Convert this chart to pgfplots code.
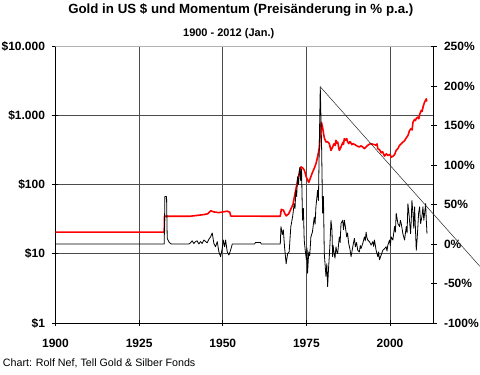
\documentclass[border=0pt]{standalone}
\usepackage{fontspec}
\setmainfont{Liberation Sans}
\usepackage{pgfplots}
\pgfplotsset{compat=1.18}
\begin{document}
\begin{tikzpicture}
\useasboundingbox (0,0) rectangle (480pt,375pt);
\begin{axis}[
  at={(55.5pt,52pt)}, anchor=south west,
  width=378pt, height=276.5pt, scale only axis,
  xmin=1900, xmax=2013,
  ymode=log, ymin=1, ymax=10000,
  axis x line*=bottom, axis y line*=left,
  axis line style={-, black, line width=0.8pt},
  xtick={1900,1925,1950,1975,2000},
  xticklabels={1900,1925,1950,1975,2000},
  ytick={1,10,100,1000,10000},
  yticklabels={\$1,\$10,\$100,\$1.000,\$10.000},
  yminorticks=false, xminorticks=false,
  tick align=center, major tick length=6pt,
  tick style={black, line width=0.8pt},
  xmajorgrids, ymajorgrids,
  grid style={black!70, line width=0.8pt},
  ticklabel style={font=\bfseries\fontsize{12}{12}\selectfont},
  xticklabel style={yshift=-10pt},
  yticklabel style={xshift=-4pt},
]
\draw[black!30, line width=0.8pt] (rel axis cs:0,1) -- (rel axis cs:1,1);
\addplot[red, line width=1.6pt, line join=round] table {
1900 20.67
1932.5 20.67
1932.6 35
1940 35
1941.3 35.5
1944.3 37
1945.5 38
1946.4 42
1947.3 40.5
1948.8 39.5
1950.1 40.5
1951.4 41.5
1952.1 40
1952.4 35.2
1967.2 35
1967.5 44
1968.1 43
1968.6 38
1969.0 35.5
1969.7 38
1970.4 45
1971.0 52
1971.4 66
1971.9 88
1972.4 116
1972.9 150
1973.4 181
1973.9 175
1974.4 162
1975.0 128
1975.7 108
1976.2 125
1976.8 150
1977.4 175
1977.9 204
1978.4 260
1978.9 350
1979.15 560
1979.5 800
1979.8 700
1980.1 560
1980.4 470
1980.85 415
1981.3 420
1981.84 394
1982.35 315
1982.86 352
1983.1 380
1983.34 394
1983.6 370
1983.85 439
1984.1 400
1984.36 415
1984.6 360
1984.84 315
1985.1 330
1985.35 352
1985.9 410
1986.1 385
1986.34 465
1986.7 440
1987.06 465
1987.3 420
1987.66 394
1988.0 420
1988.3 405
1988.6 380
1988.86 394
1989.3 385
1989.85 372
1990.3 360
1990.84 352
1991.3 365
1991.86 352
1992.34 333
1992.8 350
1993.36 372
1993.8 385
1994.35 394
1994.8 385
1995.34 381
1995.85 372
1996.1 390
1996.36 333
1996.9 320
1997.35 290
1997.8 300
1998.34 260
1998.9 280
1999.4 265
2000.0 275
2000.35 250
2000.9 258
2001.4 275
2001.85 315
2002.3 330
2002.84 370
2003.3 390
2003.86 415
2004.3 430
2004.85 475
2005.4 520
2005.84 610
2006.35 650
2006.6 620
2006.86 800
2007.34 880
2007.6 850
2007.9 920
2008.36 950
2008.6 900
2008.9 1050
2009.35 1190
2009.6 1150
2009.9 1350
2010.34 1570
2010.6 1650
2010.85 1750
2011.0 1600
};
\end{axis}
\begin{axis}[
  at={(55.5pt,52pt)}, anchor=south west,
  width=378pt, height=276.5pt, scale only axis,
  xmin=1900, xmax=2013,
  ymin=-100, ymax=250,
  axis x line=none, axis y line*=right,
  axis line style={-, black, line width=0.8pt},
  ytick={-100,-50,0,50,100,150,200,250},
  yticklabels={-100\%,-50\%,0\%,50\%,100\%,150\%,200\%,250\%},
  tick align=center, major tick length=6pt,
  tick style={black, line width=0.8pt},
  ticklabel style={font=\bfseries\fontsize{12}{12}\selectfont},
  yticklabel style={xshift=4pt},
  clip=false,
]
\addplot[black, line width=0.8pt, line join=round] table {
1900 0
1932.5 0
1932.7 60
1933.2 60
1933.4 7
1934.0 2
1934.6 0
1939.9 0
1940.35 1.5
1940.85 4
1941.35 0.7
1941.85 3
1942.35 4
1942.85 0
1943.35 3
1943.85 0.7
1944.35 5
1945.35 1.5
1945.85 6
1946.35 9
1946.85 14
1947.35 0.7
1947.85 -3.5
1948.35 3
1948.85 -10
1949.35 -16
1949.85 -5.6
1950.15 5
1950.55 -3.5
1950.85 5
1951.35 -10
1951.85 -14
1952.35 -7.7
1952.85 0
1959.5 0
1959.8 2
1961.3 2
1961.5 0
1967.2 0
1967.4 22
1967.8 12
1968.1 18
1968.5 -5
1968.95 -25
1969.4 -12
1969.85 -10
1970.35 22
1970.9 35
1971.35 51
1971.6 45
1971.85 68
1972.1 60
1972.35 85
1972.65 75
1972.9 93
1973.05 97
1973.3 80
1973.55 95
1973.85 30
1974.1 45
1974.35 5
1974.65 -8
1975.0 -20
1975.2 -5
1975.35 -37
1975.7 -10
1976.0 -15
1976.35 9
1976.8 15
1977.35 34
1977.6 25
1977.85 47
1978.35 68
1978.6 55
1978.85 123
1979.15 199
1979.55 123
1979.85 39
1980.1 60
1980.35 -12
1980.85 -41
1981.1 -25
1981.35 -54
1981.65 -29
1981.85 -16
1982.15 9
1982.35 30
1982.65 17.6
1982.85 -16
1983.0 -2
1983.15 -8
1983.55 -18
1983.85 -3.5
1984.1 -10
1984.35 -12
1984.85 9
1985.1 2
1985.35 26
1985.85 30
1986.1 18
1986.35 30
1986.65 22
1987.05 9
1987.3 14
1987.65 0.7
1988.0 -6
1988.35 -16
1989.05 0.7
1989.35 7
1989.65 -3.5
1990.0 2
1990.35 -8
1990.85 -10
1991.1 -2
1991.35 -5.6
1991.85 0.7
1992.35 9
1992.6 4
1992.85 15
1993.1 8
1993.35 5
1993.85 3
1994.35 -1.4
1994.85 3
1995.1 -3
1995.35 5
1995.85 -8
1996.35 -16
1996.6 -10
1996.85 -20
1997.35 -14
1997.85 -8
1998.35 -6
1998.85 -3.5
1999.1 -9
1999.35 -1.4
1999.85 5
2000.1 -2
2000.35 9
2000.85 5
2001.35 22
2001.6 15
2001.85 39
2002.35 26
2002.85 22
2003.1 30
2003.35 26
2003.85 13
2004.35 5
2004.85 22
2005.1 14
2005.35 51
2005.65 39
2006.15 13
2006.35 30
2006.55 55
2006.85 39
2007.1 20
2007.35 47
2007.85 -8
2008.15 9
2008.55 39
2008.85 47
2009.15 26
2009.55 35
2009.85 47
2010.1 30
2010.35 39
2010.65 51
2010.85 30
2011.05 13
};
\addplot[black!85, line width=0.5pt] table {
1979.15 199
2026.8 -28
};
\end{axis}
\node[anchor=base, font=\bfseries\fontsize{13.3}{16}\selectfont] at (240.8pt,361.7pt) {Gold in US \$ und Momentum (Preisänderung in \% p.a.)};
\node[anchor=base, font=\bfseries\fontsize{11}{13}\selectfont] at (228.7pt,338.7pt) {1900 - 2012 (Jan.)};
\node[anchor=base west, inner sep=0pt, font=\fontsize{10.7}{12}\selectfont] at (2.7pt,8.3pt) {Chart: Rolf Nef, Tell Gold \& Silber Fonds};
\end{tikzpicture}
\end{document}
